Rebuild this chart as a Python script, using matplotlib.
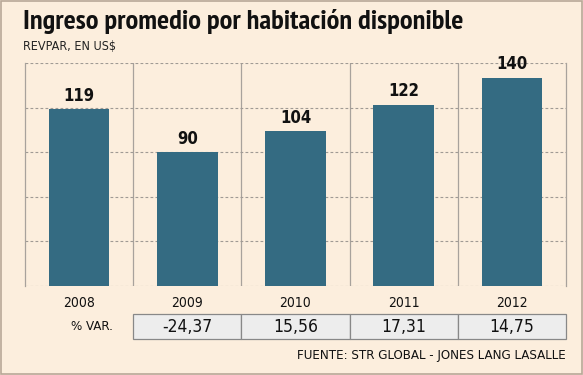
import matplotlib
matplotlib.use("Agg")
import matplotlib.pyplot as plt
from matplotlib.patches import Rectangle
from matplotlib import font_manager

years = ["2008", "2009", "2010", "2011", "2012"]
revpar = [119, 90, 104, 122, 140]
var_labels = ["-24,37", "15,56", "17,31", "14,75"]

bg = "#FCEEDD"
bar_color = "#346B82"

available = set(f.name for f in font_manager.fontManager.ttflist)
def pick(prefs):
    for p in prefs:
        if p in available:
            return p
    return "DejaVu Sans"

title_font = pick(["PT Sans Narrow", "Roboto Condensed", "Archivo Narrow", "Asap Condensed",
                   "Open Sans Condensed", "DejaVu Sans"])
body_font = "DejaVu Sans"

W, H = 583, 375
plt.rcParams['font.family'] = [body_font]
plt.rcParams['font.stretch'] = 'condensed'
fig = plt.figure(figsize=(W/100, H/100), dpi=100, facecolor=bg)

def fx(px): return px / W
def fy(py): return 1 - py / H

L, R, T, B = 25, 566, 63, 286
ax = fig.add_axes([fx(L), fy(B), fx(R) - fx(L), fy(T) - fy(B)])
ax.set_facecolor(bg)
x = list(range(len(years)))
ax.bar(x, revpar, width=0.56, color=bar_color, zorder=3)
ax.set_xlim(-0.5, len(years) - 0.5)
ax.set_ylim(0, 150)
ax.set_yticks([0, 30, 60, 90, 120, 150])
ax.yaxis.grid(True, linestyle=(0, (2.5, 2)), color="#A09A94", linewidth=0.8, zorder=1)
for xv in [0.5, 1.5, 2.5, 3.5]:
    ax.axvline(xv, color="#A8A29C", linewidth=0.9, zorder=1)
for s in ["top", "bottom"]:
    ax.spines[s].set_visible(False)
for s in ["left", "right"]:
    ax.spines[s].set_color("#A8A29C")
    ax.spines[s].set_linewidth(0.9)
ax.tick_params(left=False, bottom=False, labelleft=False)
ax.set_xticks(x)
ax.set_xticklabels(years, fontsize=10, color="#111111")
ax.tick_params(axis="x", pad=4)
for xi, v in zip(x, revpar):
    ax.text(xi, v + 3, str(v), ha="center", va="bottom", fontsize=12,
            fontweight="bold", color="#111111", zorder=4)

# title and subtitle, title scaled to span the reference width
title = fig.text(fx(23), fy(22), "Ingreso promedio por habitación disponible", fontsize=20,
                 fontweight="bold", ha="left", va="center", color="#111111",
                 family=[title_font, 'DejaVu Sans'])
fig.canvas.draw()
w = title.get_window_extent().width
title.set_fontsize(min(22, 20 * 440 / w))
fig.text(fx(23), fy(46), "REVPAR, EN US$", fontsize=9, ha="left", va="center", color="#222222")

# variation table
col_w = (R - L) / len(years)
ty0, ty1 = 314, 339
for i, lab in enumerate(var_labels):
    x0 = L + col_w * (i + 1)
    fig.patches.append(Rectangle((fx(x0), fy(ty1)), fx(col_w), fy(ty0) - fy(ty1),
                                 transform=fig.transFigure, facecolor="#EDEDED",
                                 edgecolor="#888888", linewidth=0.9))
    fig.text(fx(x0 + col_w / 2), fy((ty0 + ty1) / 2), lab, ha="center", va="center",
             fontsize=12.5, color="#111111")
fig.text(fx(113), fy((ty0 + ty1) / 2), "% VAR.", ha="right", va="center", fontsize=9.5,
         color="#111111")
fig.text(fx(566), fy(355), "FUENTE: STR GLOBAL - JONES LANG LASALLE", ha="right",
         va="center", fontsize=9.5, color="#111111")

# outer border
fig.patches.append(Rectangle((0.001, 0.002), 0.997, 0.995, transform=fig.transFigure,
                             facecolor="none", edgecolor="#B8A898", linewidth=1.2))

fig.savefig("out.png", dpi=100, facecolor=bg)
